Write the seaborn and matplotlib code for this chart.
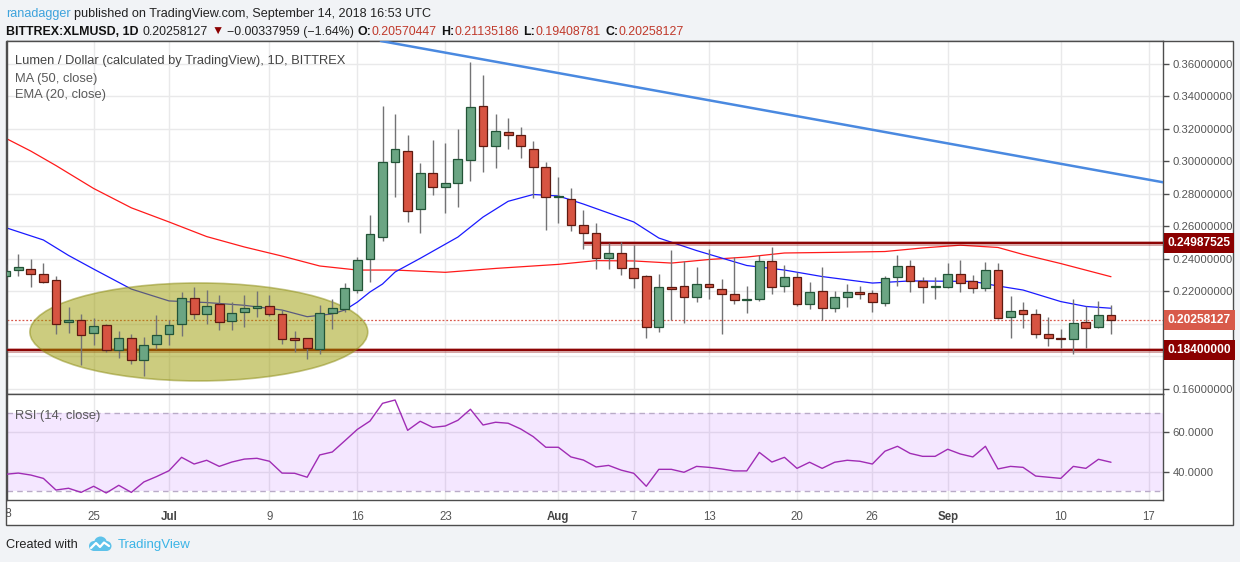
import matplotlib
matplotlib.use("Agg")
import matplotlib.pyplot as plt
import matplotlib.dates as mdates
from matplotlib.patches import Ellipse, Rectangle, Circle
from matplotlib.transforms import Bbox
import numpy as np
import pandas as pd
import seaborn as sns

# ---------------- data ----------------
dates = pd.date_range("2018-06-18", "2018-09-14", freq="D")

opens = [0.2295, 0.2331, 0.2337, 0.2306, 0.2269, 0.2014, 0.2023, 0.1943, 0.1992, 0.1838,
         0.1912, 0.1777, 0.1875,
         0.1937, 0.1998, 0.2158, 0.2060, 0.2121, 0.2017, 0.2072, 0.2097, 0.2109, 0.2060,
         0.1912, 0.1912, 0.1844, 0.2066, 0.2090, 0.2207, 0.2398, 0.2534, 0.2995, 0.3063,
         0.2706, 0.2927, 0.2841, 0.2866, 0.3007, 0.3340, 0.3094, 0.3180, 0.3161, 0.3075,
         0.2964,
         0.2780, 0.2767, 0.2607, 0.2558, 0.2404, 0.2435, 0.2343, 0.2294, 0.1980, 0.2226,
         0.2232, 0.2164, 0.2244, 0.2214, 0.2183, 0.2146, 0.2152, 0.2386, 0.2232, 0.2287,
         0.2121, 0.2201, 0.2097, 0.2164, 0.2195, 0.2189, 0.2127, 0.2287, 0.2355, 0.2263,
         0.2226,
         0.2226, 0.2306, 0.2263, 0.2220, 0.2331, 0.2041, 0.2084, 0.2060, 0.1937, 0.1912,
         0.1906, 0.2010, 0.1980, 0.2057]
highs = [0.2369, 0.2431, 0.2398, 0.2374, 0.2295, 0.2103, 0.2062, 0.2035, 0.2000, 0.1957,
         0.1938, 0.1918, 0.2055,
         0.2025, 0.2199, 0.2230, 0.2209, 0.2178, 0.2134, 0.2178, 0.2203, 0.2178, 0.2086,
         0.1957, 0.1914, 0.2117, 0.2152, 0.2254, 0.2410, 0.2671, 0.3342, 0.3292, 0.3163,
         0.2989, 0.3132, 0.3112, 0.3198, 0.3614, 0.3532, 0.3292, 0.3266, 0.3210, 0.3128,
         0.2995,
         0.2903, 0.2835, 0.2700, 0.2620, 0.2497, 0.2506, 0.2486, 0.2302, 0.2306, 0.2455,
         0.2388, 0.2349, 0.2460, 0.2275, 0.2410, 0.2234, 0.2425, 0.2472, 0.2363, 0.2322,
         0.2257, 0.2349, 0.2201, 0.2246, 0.2234, 0.2207, 0.2295, 0.2425, 0.2394, 0.2287,
         0.2287,
         0.2374, 0.2394, 0.2300, 0.2380, 0.2374, 0.2171, 0.2134, 0.2090, 0.2041, 0.1967,
         0.2152, 0.2109, 0.2140, 0.2114]
lows = [0.2277, 0.2297, 0.2230, 0.2250, 0.1937, 0.1943, 0.1748, 0.1871, 0.1830, 0.1793,
        0.1756, 0.1682, 0.1844,
        0.1871, 0.1928, 0.2029, 0.1998, 0.1963, 0.1963, 0.1983, 0.2045, 0.2049, 0.1875,
        0.1830, 0.1783, 0.1814, 0.1967, 0.2074, 0.2193, 0.2260, 0.2513, 0.2783, 0.2630,
        0.2558, 0.2794, 0.2685, 0.2718, 0.2878, 0.2934, 0.2958, 0.3075, 0.3020, 0.2774,
        0.2577,
        0.2620, 0.2570, 0.2460, 0.2337, 0.2337, 0.2302, 0.2223, 0.1912, 0.1953, 0.2025,
        0.2004, 0.2137, 0.2152, 0.1937, 0.2121, 0.2066, 0.2143, 0.2183, 0.2195, 0.2113,
        0.2090, 0.2023, 0.2072, 0.2107, 0.2152, 0.2076, 0.2113, 0.2236, 0.2199, 0.2127,
        0.2152,
        0.2220, 0.2195, 0.2189, 0.2201, 0.2029, 0.1912, 0.1974, 0.1912, 0.1867, 0.1854,
        0.1814, 0.1850, 0.1974, 0.1941]
closes = [0.2328, 0.2349, 0.2306, 0.2260, 0.1998, 0.2023, 0.1930, 0.1986, 0.1838, 0.1912,
          0.1777, 0.1869, 0.1930,
          0.1992, 0.2158, 0.2060, 0.2109, 0.2012, 0.2066, 0.2097, 0.2111, 0.2060, 0.1906,
          0.1903, 0.1850, 0.2066, 0.2097, 0.2220, 0.2392, 0.2552, 0.2995, 0.3075, 0.2694,
          0.2927, 0.2841, 0.2866, 0.3014, 0.3334, 0.3094, 0.3186, 0.3161, 0.3094, 0.2964,
          0.2780,
          0.2786, 0.2607, 0.2558, 0.2404, 0.2435, 0.2343, 0.2281, 0.1980, 0.2226, 0.2217,
          0.2164, 0.2244, 0.2226, 0.2183, 0.2146, 0.2152, 0.2386, 0.2226, 0.2287, 0.2121,
          0.2195, 0.2097, 0.2164, 0.2195, 0.2183, 0.2134, 0.2281, 0.2355, 0.2266, 0.2226,
          0.2232,
          0.2306, 0.2250, 0.2220, 0.2331, 0.2035, 0.2078, 0.2060, 0.1937, 0.1912, 0.1906,
          0.2004, 0.1974, 0.2057, 0.20258127]

ma_dates = ["2018-06-18", "2018-06-20", "2018-06-22", "2018-06-25", "2018-06-28", "2018-07-01",
            "2018-07-04", "2018-07-07", "2018-07-10", "2018-07-13", "2018-07-16", "2018-07-19",
            "2018-07-23", "2018-07-27", "2018-08-01", "2018-08-04", "2018-08-07", "2018-08-10",
            "2018-08-13", "2018-08-16", "2018-08-19", "2018-08-23", "2018-08-27", "2018-08-30",
            "2018-09-02", "2018-09-05", "2018-09-07", "2018-09-10", "2018-09-14"]
ma50 = [0.3143, 0.3064, 0.2975, 0.2834, 0.2715, 0.2628, 0.2538, 0.2474, 0.2418, 0.2357,
        0.2332, 0.2332, 0.2318, 0.2342, 0.2367, 0.2390, 0.2388, 0.2375, 0.2397, 0.2412,
        0.2437, 0.2441, 0.2446, 0.2468, 0.2485, 0.2471, 0.2428, 0.2372, 0.2291]

ema_dates = ["2018-06-18", "2018-06-21", "2018-06-23", "2018-06-25", "2018-06-28", "2018-07-01",
             "2018-07-04", "2018-07-07", "2018-07-10", "2018-07-12", "2018-07-14", "2018-07-15",
             "2018-07-16", "2018-07-17", "2018-07-18", "2018-07-19", "2018-07-21", "2018-07-24",
             "2018-07-26", "2018-07-28", "2018-07-30", "2018-08-01", "2018-08-03", "2018-08-05",
             "2018-08-07", "2018-08-09", "2018-08-12", "2018-08-16", "2018-08-19", "2018-08-22",
             "2018-08-26", "2018-08-29", "2018-09-03", "2018-09-05", "2018-09-07", "2018-09-10",
             "2018-09-12", "2018-09-14"]
ema20 = [0.2593, 0.2517, 0.2422, 0.2338, 0.2215, 0.2142, 0.2132, 0.2115, 0.2086, 0.2045,
         0.2062, 0.2086, 0.2135, 0.2197, 0.2246, 0.2320, 0.2404, 0.2535, 0.2658, 0.2755,
         0.2797, 0.2788, 0.2738, 0.2683, 0.2628, 0.2529, 0.2452, 0.2360, 0.2332, 0.2292,
         0.2252, 0.2265, 0.2262, 0.2234, 0.2209, 0.2138, 0.2108, 0.2097]

rsi = [38.7, 39.3, 38.3, 36.6, 30.7, 31.6, 29.5, 32.6, 29.2, 33.1, 29.5, 34.8, 37.5,
       40.5, 47.3, 43.9, 45.8, 42.7, 44.9, 46.4, 46.8, 45.3, 39.3, 39.2, 37.2, 48.5, 50.0,
       55.7, 61.5, 65.7, 74.7, 76.4, 61.0, 65.6, 62.5, 63.2, 66.1, 71.7, 63.7, 65.1, 64.6,
       61.7, 57.8, 52.4,
       52.4, 47.5, 45.9, 42.4, 43.2, 40.8, 39.2, 32.6, 41.2, 41.2, 39.7, 42.7, 42.2, 41.4,
       40.4, 40.4, 49.8, 44.9, 47.3, 41.7, 44.8, 41.7, 44.8, 45.8, 45.3, 43.9, 50.4, 52.9,
       49.3, 47.8, 47.8,
       51.4, 49.0, 47.5, 52.9, 41.4, 42.7, 42.2, 37.8, 37.2, 36.6, 42.7, 41.7, 46.3, 44.8]

resistance = 0.24987525
resistance_from = "2018-08-03"
support = 0.184
last_price = 0.20258127
trend_points = [("2018-07-25", 0.3642), ("2018-09-14", 0.2930)]
zone_center = ("2018-07-03 09:00", 0.1951)
zone_size = (26.9, 0.0603)

tick_dates = ["2018-06-25", "2018-07-01", "2018-07-09", "2018-07-16", "2018-07-23", "2018-08-01",
              "2018-08-07", "2018-08-13", "2018-08-20", "2018-08-26", "2018-09-01", "2018-09-10",
              "2018-09-17"]
tick_labels = ["25", "Jul", "9", "16", "23", "Aug", "7", "13", "20", "26", "Sep", "10", "17"]
price_ticks = [0.16, 0.18, 0.20, 0.22, 0.24, 0.26, 0.28, 0.30, 0.32, 0.34, 0.36]
hidden_ticks = [0.18, 0.20]  # covered by the price boxes
rsi_ticks = [40, 60]

# ---------------- style ----------------
sns.set_theme(style="white")
plt.rcParams["font.family"] = ["Liberation Sans", "DejaVu Sans"]

W, H = 1240, 562
FRAME = "#4d4d4d"
GRID = "#e9e9ea"
TXT = "#555555"


def fx(px):
    return px / W


def fy(py):
    return 1 - py / H


def num(d):
    return mdates.date2num(pd.Timestamp(d))


fig = plt.figure(figsize=(W / 100, H / 100), dpi=100, facecolor="#f1f3f6")
fig.patches.append(Rectangle((fx(6), fy(525)), 1227 / W, 484 / H, transform=fig.transFigure,
                             facecolor="white", edgecolor=FRAME, linewidth=1, zorder=-5))

ax = fig.add_axes([fx(7), fy(394), 1156 / W, 353 / H])
rax = fig.add_axes([fx(7), fy(500), 1156 / W, 106 / H], sharex=ax)

x = mdates.date2num(dates)
x_left = num("2018-07-01") + (7 - 169) / 12.56
x_right = num("2018-07-01") + (1163 - 169) / 12.56

# ---------------- price panel ----------------
sns.lineplot(x=[num(d) for d in ma_dates], y=ma50, ax=ax, color="#ff1a1a", linewidth=0.9, zorder=2)
sns.lineplot(x=[num(d) for d in ema_dates], y=ema20, ax=ax, color="#1a1aff", linewidth=0.9, zorder=2)

ax.axhline(last_price, color="#d9594c", linestyle=(0, (1.5, 1.5)), linewidth=0.9, zorder=1.5)
for xmin, lvl in [(num(resistance_from), resistance), (x_left - 1, support)]:
    ax.hlines(lvl, xmin, x_right + 1, color="#8b0000", alpha=0.35, linewidth=3.6, zorder=2.5)
    ax.hlines(lvl, xmin, x_right + 1, color="#8b0000", linewidth=1.4, zorder=2.6)

zone = Ellipse((num(zone_center[0]), zone_center[1]), zone_size[0], zone_size[1],
               facecolor="#9a9a00", alpha=0.5, edgecolor="#8a8a10", linewidth=1.2, zorder=3)
ax.add_patch(zone)

o = np.array(opens)
c = np.array(closes)
up = c >= o
body_fill = np.where(up, "#6ba583", "#d75442")
body_edge = np.where(up, "#225437", "#5e1a10")
body_low = np.minimum(o, c)
body_h = np.maximum(np.abs(c - o), 0.0003)
ax.vlines(x, lows, highs, color="#737375", linewidth=1, zorder=4)
ax.bar(x, body_h, bottom=body_low, width=0.7, color=body_fill, edgecolor=body_edge,
       linewidth=0.9, zorder=5)

(t1, p1), (t2, p2) = trend_points
ax.axline((num(t1), p1), (num(t2), p2), color="#4a89e0", linewidth=1.8, zorder=6)

ax.set_xlim(x_left, x_right)
ax.set_ylim(0.36 - (394 - 64) / 1625, 0.36 + (64 - 41) / 1625)
ax.set_yticks(price_ticks)
ax.set_yticklabels(["" if v in hidden_ticks else f"{v:.8f}" for v in price_ticks])
ax.yaxis.tick_right()
ax.tick_params(axis="y", colors=FRAME, labelcolor=TXT, labelsize=8.1, length=4, width=1,
               direction="out", pad=3)
ax.tick_params(axis="x", bottom=False, labelbottom=False)
ax.set_xlabel("")
ax.set_ylabel("")
ax.grid(True, color=GRID, linewidth=1)
ax.set_axisbelow(True)

for val, box in [(resistance, "#8b0000"), (last_price, "#d85a4a"), (support, "#8b0000")]:
    ax.annotate(f"{val:.8f}", xy=(1, val), xycoords=("axes fraction", "data"),
                xytext=(3.2, 0), textcoords="offset points", ha="left", va="center",
                color="white", fontweight="bold", fontsize=8.6, zorder=10,
                annotation_clip=False,
                bbox=dict(boxstyle="square,pad=0.33", facecolor=box, edgecolor="none"))

# ---------------- RSI panel ----------------
rax.axhspan(30, 70, color="#9915ff", alpha=0.1, linewidth=0, zorder=1)
for lvl in [30, 70]:
    rax.axhline(lvl, color="#b9abc7", linestyle=(0, (4, 3)), linewidth=1, zorder=1.5)
sns.lineplot(x=x, y=rsi, ax=rax, color="#a02cb5", linewidth=1, zorder=3)
rax.set_ylim(60 - (500 - 432.3) / 1.97, 60 + (432.3 - 394) / 1.97)
rax.set_yticks(rsi_ticks)
rax.set_yticklabels([f"{v:.4f}" for v in rsi_ticks])
rax.yaxis.tick_right()
rax.tick_params(axis="y", colors=FRAME, labelcolor=TXT, labelsize=8.1, length=4, width=1,
                direction="out", pad=3)
rax.set_xticks([num(d) for d in tick_dates])
rax.set_xticklabels(tick_labels)
rax.tick_params(axis="x", colors=FRAME, labelcolor=TXT, labelsize=8.3, length=4, width=1,
                direction="out", pad=4)
for lab in rax.get_xticklabels():
    if lab.get_text() in ("Jul", "Aug", "Sep"):
        lab.set_fontweight("bold")
        lab.set_color("#444444")
rax.set_xlabel("")
rax.set_ylabel("")
rax.grid(True, color=GRID, linewidth=1)
rax.set_axisbelow(True)
rax.set_xlim(x_left, x_right)

first = rax.text(num("2018-06-18"), -14 / 106, "18", transform=rax.get_xaxis_transform(),
                 ha="center", va="center", color=TXT, fontsize=8.3)
first.set_clip_on(True)
first.set_clip_box(Bbox.from_extents(7, 0, W, H))

for a in (ax, rax):
    for s in a.spines.values():
        s.set_color(FRAME)
        s.set_linewidth(1)

# ---------------- texts ----------------
def chain(pieces, px, py, size):
    txt, col, wt = pieces[0]
    prev = fig.text(fx(px), fy(py), txt, color=col, fontweight=wt, fontsize=size, va="bottom")
    for txt, col, wt, gap in pieces[1:]:
        prev = ax.annotate(txt, xy=(1, 0), xycoords=prev, xytext=(gap, 0),
                           textcoords="offset points", va="bottom", ha="left", color=col,
                           fontweight=wt, fontsize=size, annotation_clip=False)


chain([("ranadagger", "#3ea3dc", "normal"),
       ("published on TradingView.com, September 14, 2018 16:53 UTC", "#222222", "normal", 2.4)],
      6, 20, 9.1)
chain([("BITTREX:XLMUSD, 1D", "#111111", "bold"),
       ("0.20258127", "#222222", "normal", 3.2),
       ("\u25bc", "#8b0000", "normal", 2.2),
       ("\u22120.00337959 (\u22121.64%)", "#222222", "normal", 2.2),
       ("O:", "#111111", "bold", 3.2),
       ("0.20570447", "#c0392b", "normal", 0),
       ("H:", "#111111", "bold", 3.2),
       ("0.21135186", "#c0392b", "normal", 0),
       ("L:", "#111111", "bold", 3.2),
       ("0.19408781", "#c0392b", "normal", 0),
       ("C:", "#111111", "bold", 3.2),
       ("0.20258127", "#c0392b", "normal", 0)],
      6, 38, 8.9)

fig.text(fx(15), fy(61), "Lumen / Dollar (calculated by TradingView), 1D, BITTREX",
         color="#444444", fontsize=9.3, va="center")
fig.text(fx(15), fy(79), "MA (50, close)", color="#5a5a5a", fontsize=9.3, va="center")
fig.text(fx(15), fy(95), "EMA (20, close)", color="#5a5a5a", fontsize=9.3, va="center")
fig.text(fx(15), fy(416), "RSI (14, close)", color="#5a5a5a", fontsize=9.3, va="center")

fig.text(fx(6), fy(545), "Created with", color="#222222", fontsize=9.2, va="center")
fig.text(fx(118), fy(545), "TradingView", color="#3bb4e6", fontsize=9.5, va="center")

lax = fig.add_axes([fx(88), fy(552), 24 / W, 16 / H])
lax.set_xlim(0, 24)
lax.set_ylim(0, 16)
lax.axis("off")
for cx, cy, r in [(6, 6, 5), (12.5, 9, 6.5), (18.5, 6, 5)]:
    lax.add_patch(Circle((cx, cy), r, color="#5ec2ea", linewidth=0))
lax.add_patch(Rectangle((6, 1), 12.5, 6, color="#5ec2ea", linewidth=0))
lax.plot([3, 8, 12, 16, 21], [4, 9, 5, 9.5, 6], color="white", linewidth=1.6,
         solid_capstyle="round")

fig.savefig("out.png", dpi=100, facecolor=fig.get_facecolor())
